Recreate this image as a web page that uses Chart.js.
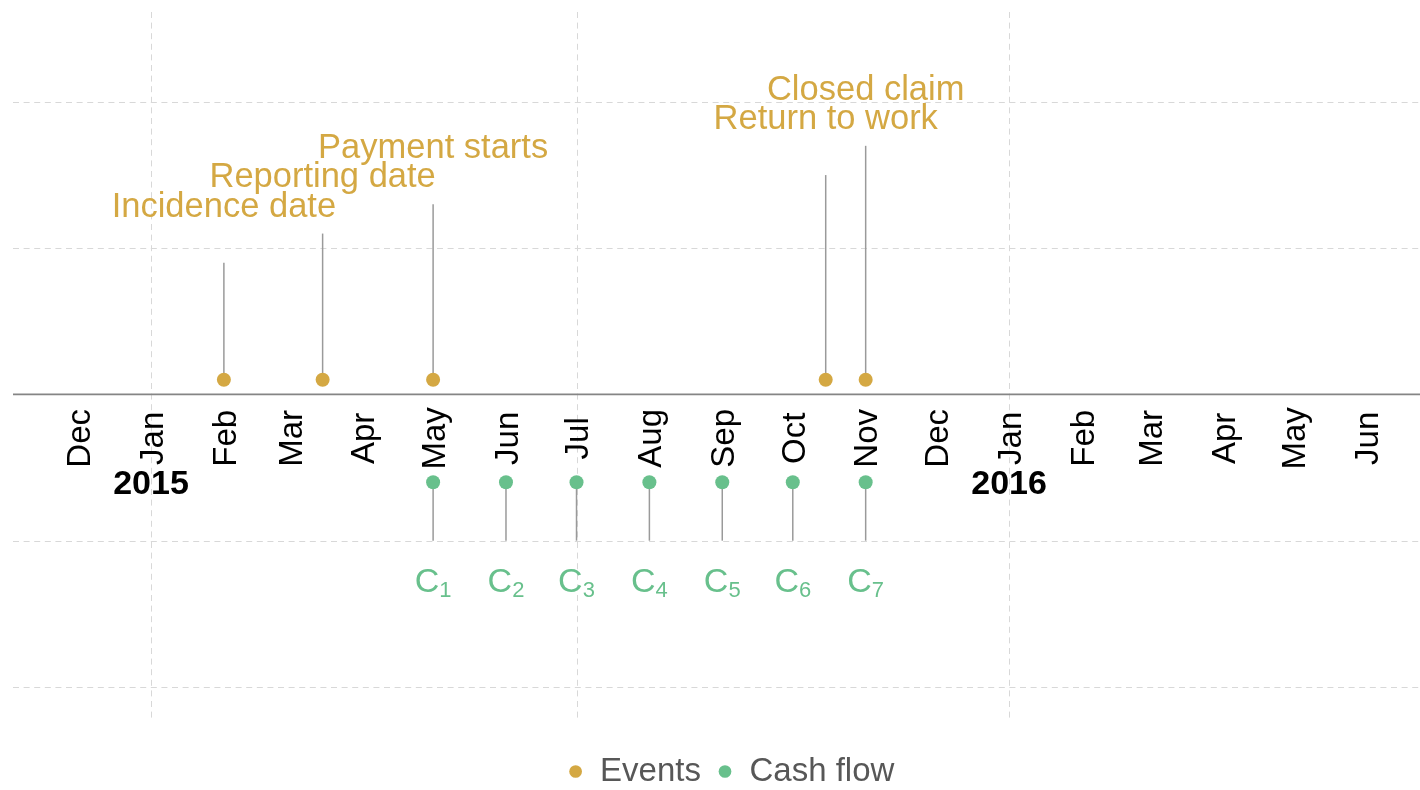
<!DOCTYPE html>
<html>
<head>
<meta charset="utf-8">
<script src="https://cdn.jsdelivr.net/npm/chart.js@4/dist/chart.umd.min.js"></script>
<style>
  html, body { margin: 0; padding: 0; background: #fff; overflow: hidden; }
  canvas { display: block; }
</style>
</head>
<body>
<canvas id="c" width="1420" height="790"></canvas>
<script>
'use strict';
/* línea de tiempo de un siniestro: eventos arriba, flujos de caja abajo */
const day = (y, m, d) => Date.UTC(y, m - 1, d);
const DAY = 864e5;

const eventLabels = ['Incidence date', 'Reporting date', 'Payment starts', 'Return to work', 'Closed claim'];
const eventDates = [day(2015, 2, 1), day(2015, 3, 15), day(2015, 5, 1), day(2015, 10, 15), day(2015, 11, 1)];
const eventY = 0.1;
const eventStemTop = [0.9, 1.1, 1.3, 1.5, 1.7];
const eventLabelY = [1.3, 1.5, 1.7, 1.9, 2.1];

const cashSubs = ['1', '2', '3', '4', '5', '6', '7'];
const cashDates = [day(2015, 5, 1), day(2015, 6, 1), day(2015, 7, 1), day(2015, 8, 1), day(2015, 9, 1), day(2015, 10, 1), day(2015, 11, 1)];
const cashY = -0.6;
const cashStemEnd = -1;
const cashLabelY = -1.27;

const monthLabels = ['Dec', 'Jan', 'Feb', 'Mar', 'Apr', 'May', 'Jun', 'Jul', 'Aug', 'Sep', 'Oct', 'Nov', 'Dec', 'Jan', 'Feb', 'Mar', 'Apr', 'May', 'Jun'];
const monthDates = [day(2014, 12, 1), day(2015, 1, 1), day(2015, 2, 1), day(2015, 3, 1), day(2015, 4, 1), day(2015, 5, 1), day(2015, 6, 1),
  day(2015, 7, 1), day(2015, 8, 1), day(2015, 9, 1), day(2015, 10, 1), day(2015, 11, 1), day(2015, 12, 1),
  day(2016, 1, 1), day(2016, 2, 1), day(2016, 3, 1), day(2016, 4, 1), day(2016, 5, 1), day(2016, 6, 1)];
const monthLabelY = -0.3;
const yearLabels = ['2015', '2016'];
const yearDates = [day(2015, 1, 1), day(2016, 1, 1)];
const yearLabelY = -0.6;

const xGrid = [day(2015, 1, 1), day(2015, 7, 1), day(2016, 1, 1)];
const yGrid = [-2, -1, 1, 2];

/* extensión del panel (como el expand de ggplot) */
const panelX = [day(2015, 1, 1) - 58.7 * DAY, day(2015, 1, 1) + 539.8 * DAY];
const panelY = [-2.226, 2.615];

const GOLD = '#d4a843', GREEN = '#68c08c', STEM = '#9a9a9a';
const FONT = '"Liberation Sans", Arial, Helvetica, sans-serif';

const timeline = {
  id: 'timeline',
  beforeDatasetsDraw(chart) {
    const { ctx, scales: { x, y } } = chart;
    const xl = x.getPixelForValue(panelX[0]), xr = x.getPixelForValue(panelX[1]);
    const yt = y.getPixelForValue(panelY[1]), yb = y.getPixelForValue(panelY[0]);
    ctx.save();
    ctx.strokeStyle = '#d8d8d8';
    ctx.lineWidth = 1;
    ctx.setLineDash([6, 4.6]);
    yGrid.forEach(v => {
      const py = Math.round(y.getPixelForValue(v)) + 0.5;
      ctx.beginPath(); ctx.moveTo(xl, py); ctx.lineTo(xr, py); ctx.stroke();
    });
    xGrid.forEach(v => {
      const px = Math.round(x.getPixelForValue(v)) + 0.5;
      ctx.beginPath(); ctx.moveTo(px, yt); ctx.lineTo(px, yb); ctx.stroke();
    });
    ctx.setLineDash([]);
    // eje y = 0
    ctx.strokeStyle = '#858585';
    ctx.lineWidth = 1.7;
    const p0 = y.getPixelForValue(0);
    ctx.beginPath(); ctx.moveTo(xl, p0); ctx.lineTo(xr, p0); ctx.stroke();
    // tallos
    ctx.strokeStyle = STEM;
    ctx.lineWidth = 1.5;
    eventDates.forEach((d, i) => {
      const px = x.getPixelForValue(d);
      ctx.beginPath(); ctx.moveTo(px, y.getPixelForValue(eventY)); ctx.lineTo(px, y.getPixelForValue(eventStemTop[i])); ctx.stroke();
    });
    cashDates.forEach(d => {
      const px = x.getPixelForValue(d);
      ctx.beginPath(); ctx.moveTo(px, y.getPixelForValue(cashY)); ctx.lineTo(px, y.getPixelForValue(cashStemEnd)); ctx.stroke();
    });
    ctx.restore();
  },
  afterDatasetsDraw(chart) {
    const { ctx, scales: { x, y } } = chart;
    ctx.save();
    // etiquetas de eventos
    let fs = 34.5;
    ctx.font = `${fs}px ${FONT}`;
    ctx.fillStyle = GOLD;
    ctx.textAlign = 'center';
    ctx.textBaseline = 'alphabetic';
    eventLabels.forEach((t, i) => {
      ctx.fillText(t, x.getPixelForValue(eventDates[i]), y.getPixelForValue(eventLabelY[i]) + fs * 0.358);
    });
    // meses (rotados)
    fs = 33;
    ctx.font = `${fs}px ${FONT}`;
    ctx.fillStyle = '#000';
    monthLabels.forEach((t, i) => {
      ctx.save();
      ctx.translate(x.getPixelForValue(monthDates[i]), y.getPixelForValue(monthLabelY));
      ctx.rotate(-Math.PI / 2);
      ctx.fillText(t, 0, fs * 0.358);
      ctx.restore();
    });
    // años
    fs = 34;
    ctx.font = `bold ${fs}px ${FONT}`;
    yearLabels.forEach((t, i) => {
      ctx.fillText(t, x.getPixelForValue(yearDates[i]), y.getPixelForValue(yearLabelY) + fs * 0.358);
    });
    // C con subíndice
    ctx.fillStyle = GREEN;
    ctx.textAlign = 'left';
    const big = `34px ${FONT}`, small = `22px ${FONT}`;
    cashSubs.forEach((s, i) => {
      ctx.font = big; const wc = ctx.measureText('C').width;
      ctx.font = small; const ws = ctx.measureText(s).width;
      const x0 = x.getPixelForValue(cashDates[i]) - (wc + ws) / 2;
      const base = y.getPixelForValue(cashLabelY) + 34 * 0.358;
      ctx.font = big; ctx.fillText('C', x0, base);
      ctx.font = small; ctx.fillText(s, x0 + wc, base + 5);
    });
    ctx.restore();
  }
};

new Chart(document.getElementById('c'), {
  type: 'scatter',
  data: {
    datasets: [
      { label: 'Events', data: eventDates.map(d => ({ x: d, y: eventY })), backgroundColor: GOLD, borderColor: GOLD,
        pointRadius: 7, pointHoverRadius: 7, pointBorderWidth: 0 },
      { label: 'Cash flow', data: cashDates.map(d => ({ x: d, y: cashY })), backgroundColor: GREEN, borderColor: GREEN,
        pointRadius: 7, pointHoverRadius: 7, pointBorderWidth: 0 },
    ],
  },
  options: {
    responsive: false, animation: false, devicePixelRatio: 1,
    layout: { autoPadding: false, padding: { left: 42, top: 12, right: 0, bottom: -8 } },
    scales: {
      x: { type: 'linear', display: false, min: day(2015, 1, 1) - 46.37 * DAY, max: panelX[1] },
      y: { display: false, min: -2.356, max: 2.615 },
    },
    plugins: {
      legend: {
        position: 'bottom',
        labels: { usePointStyle: true, pointStyle: 'circle', boxWidth: 16, boxHeight: 9, padding: 16,
          color: '#575757', font: { size: 33, family: FONT } },
      },
      tooltip: { enabled: false },
    },
  },
  plugins: [timeline],
});
</script>
</body>
</html>
